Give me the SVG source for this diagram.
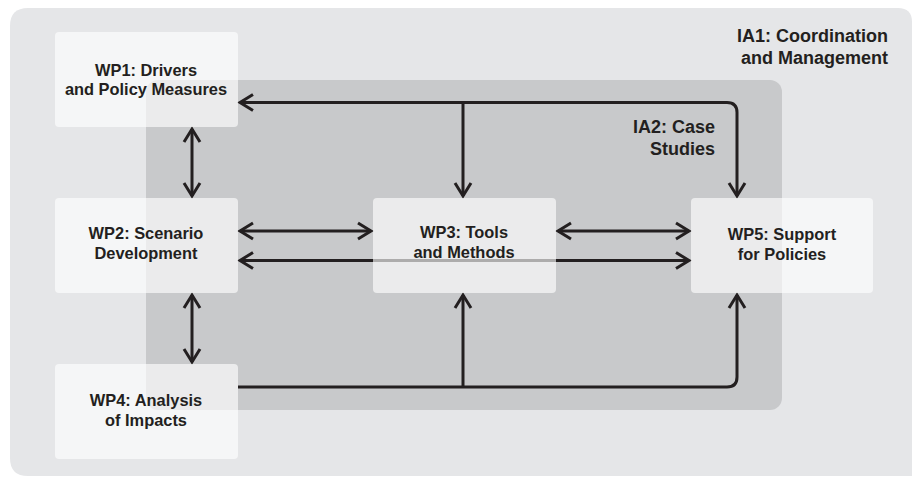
<svg xmlns="http://www.w3.org/2000/svg" width="912" height="477" viewBox="0 0 912 477">
<style>
.t{font-family:"Liberation Sans",Arial,sans-serif;font-weight:bold;font-size:16.4px;fill:#231f20;text-anchor:middle}
.ia{font-family:"Liberation Sans",Arial,sans-serif;font-weight:bold;font-size:18px;fill:#231f20;text-anchor:end}
.box{fill:#ffffff;fill-opacity:0.63}
.c{fill:none;stroke:#231f20;stroke-width:3}
</style>
<defs>
<marker id="a" viewBox="-16 -10 18 20" refX="0" refY="0" markerWidth="18" markerHeight="20" markerUnits="userSpaceOnUse" orient="auto-start-reverse" overflow="visible">
<path d="M-13,-8 L0,0 L-13,8" fill="none" stroke="#231f20" stroke-width="3"/>
</marker>
</defs>
<rect width="912" height="477" fill="#ffffff"/>
<g id="IA1">
<path d="M28 8 H898 Q912 8 912 22 V476 H28 Q10 476 10 458 V26 Q10 8 28 8 Z" fill="#e5e6e8"/>
<text class="ia" x="888" y="42">IA1: Coordination</text>
<text class="ia" x="888" y="64">and Management</text>
</g>
<g id="IA2">
<rect x="146" y="80" width="636" height="330" rx="12" fill="#c8c9cb"/>
<text class="ia" x="715" y="133">IA2: Case</text>
<text class="ia" x="715" y="155">Studies</text>
</g>
<g id="connectors">
<path class="c" d="M240 102.5 H727 Q737 102.5 737 112.5 V196" marker-start="url(#a)" marker-end="url(#a)"/>
<path class="c" d="M463 102.5 V196" marker-end="url(#a)"/>
<path class="c" d="M192 129 V196" marker-start="url(#a)" marker-end="url(#a)"/>
<path class="c" d="M192 295 V362" marker-start="url(#a)" marker-end="url(#a)"/>
<path class="c" d="M240 231 H371" marker-start="url(#a)" marker-end="url(#a)"/>
<path class="c" d="M558 231 H689" marker-start="url(#a)" marker-end="url(#a)"/>
<path class="c" d="M240 260.5 H689" marker-start="url(#a)" marker-end="url(#a)"/>
<path class="c" d="M238 387 H727 Q737 387 737 377 V295" marker-end="url(#a)"/>
<path class="c" d="M463 387 V295" marker-end="url(#a)"/>
</g>
<g id="WP1">
<rect class="box" x="55" y="32" width="183" height="95" rx="4"/>
<text class="t" x="146" y="76">WP1: Drivers</text>
<text class="t" x="146" y="95">and Policy Measures</text>
</g>
<g id="WP2">
<rect class="box" x="55" y="198" width="183" height="95" rx="4"/>
<text class="t" x="146" y="239">WP2: Scenario</text>
<text class="t" x="146" y="259">Development</text>
</g>
<g id="WP3">
<rect class="box" x="373" y="198" width="183" height="95" rx="4"/>
<text class="t" x="464" y="238">WP3: Tools</text>
<text class="t" x="464" y="258">and Methods</text>
</g>
<g id="WP5">
<rect class="box" x="691" y="198" width="182" height="95" rx="4"/>
<text class="t" x="782" y="240">WP5: Support</text>
<text class="t" x="782" y="260">for Policies</text>
</g>
<g id="WP4">
<rect class="box" x="55" y="364" width="183" height="95" rx="4"/>
<text class="t" x="146" y="406">WP4: Analysis</text>
<text class="t" x="146" y="426">of Impacts</text>
</g>
</svg>
